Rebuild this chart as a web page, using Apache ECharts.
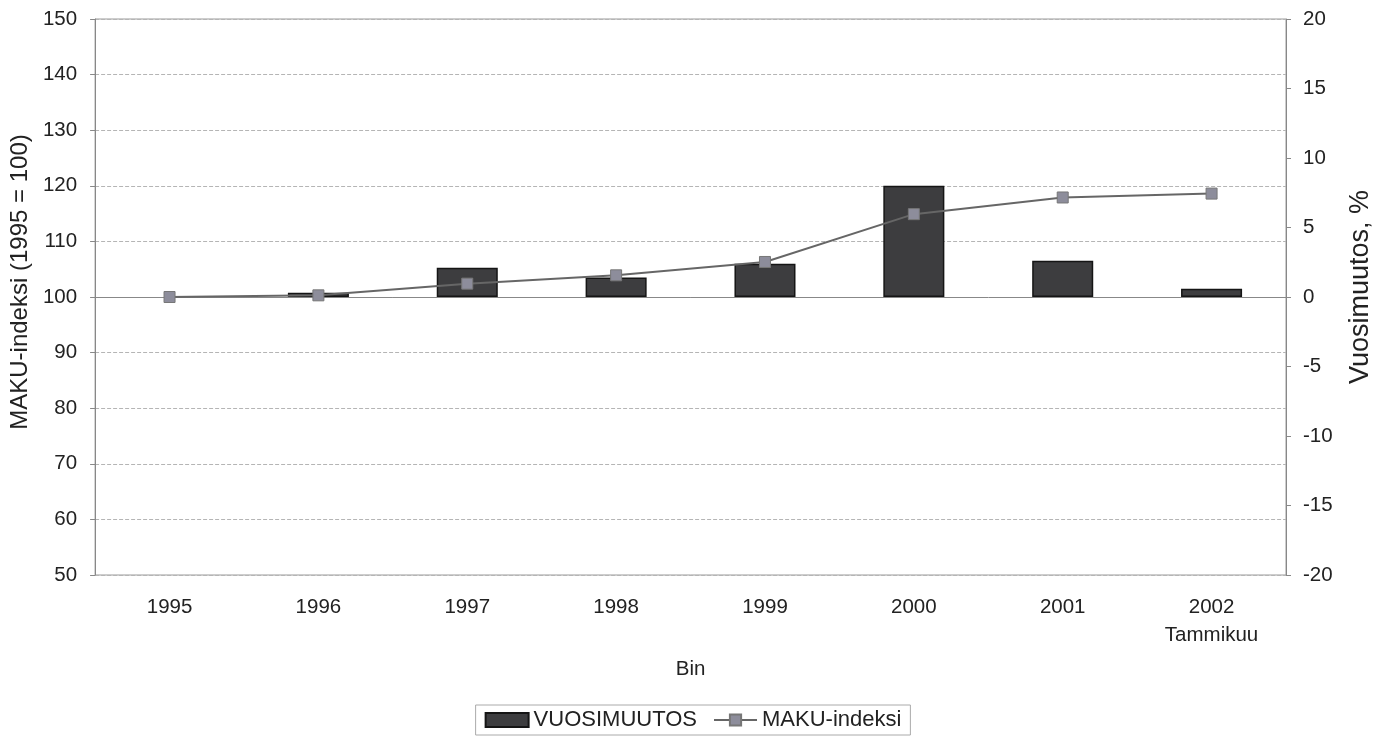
<!DOCTYPE html>
<html>
<head>
<meta charset="utf-8">
<title>MAKU-indeksi</title>
<script src="https://cdn.jsdelivr.net/npm/echarts@6/dist/echarts.min.js"></script>
<style>
	html, body { margin: 0; padding: 0; background: #fff; }
	#chart { width: 1386px; height: 741px; }
</style>
</head>
<body>
<div id="chart"></div>
<script>
// vuodet (viimeinen = tammikuu 2002)
var years = ['1995', '1996', '1997', '1998', '1999', '2000', '2001', '2002\nTammikuu'];
// vuosimuutos, % (oikea akseli)
var yearChange = ['-', 0.3, 2.1, 1.4, 2.4, 8.0, 2.6, 0.6];
// MAKU-indeksi 1995 = 100 (vasen akseli)
var makuIndex = [100, 100.3, 102.4, 103.9, 106.3, 114.9, 117.9, 118.6];

var font = 'Liberation Sans, Arial, sans-serif';
var txt = { color: '#222', fontFamily: font, fontSize: 20.5 };

var myChart = echarts.init(document.getElementById('chart'));
var option = {
	backgroundColor: '#ffffff',
	animation: false,
	textStyle: { fontFamily: font },
	grid: {
		left: 95,
		right: 100,
		top: 19,
		bottom: 166,
		show: true,
		borderColor: '#9a9a9a',
		borderWidth: 1
	},
	legend: {
		data: [{ name: 'VUOSIMUUTOS', icon: 'rect' }, { name: 'MAKU-indeksi' }],
		left: 'center',
		top: 705,
		itemWidth: 43,
		itemHeight: 14,
		itemGap: 16,
		padding: [4, 9],
		borderColor: '#aaa',
		borderWidth: 1,
		textStyle: { color: '#222', fontFamily: font, fontSize: 22 }
	},
	xAxis: {
		type: 'category',
		data: years,
		name: 'Bin',
		nameLocation: 'middle',
		nameGap: 84,
		nameTextStyle: txt,
		axisLine: { lineStyle: { color: '#888' } },
		axisTick: { lineStyle: { color: '#888' }, length: 5 },
		axisLabel: Object.assign({ margin: 18, lineHeight: 28 }, txt)
	},
	yAxis: [{
		type: 'value',
		min: 50,
		max: 150,
		interval: 10,
		name: 'MAKU-indeksi (1995 = 100)',
		nameLocation: 'middle',
		nameGap: 62,
		// otsikko hieman akselin keskikohdan yläpuolella
		nameTextStyle: { color: '#222', fontFamily: font, fontSize: 24, padding: [0, 0, 0, 30] },
		axisLine: { show: true, lineStyle: { color: '#888' } },
		axisTick: { show: true, lineStyle: { color: '#888' }, length: 5 },
		axisLabel: Object.assign({ margin: 18 }, txt),
		splitLine: { lineStyle: { color: '#b5b5b5', type: 'dashed', width: 1 } }
	}, {
		type: 'value',
		min: -20,
		max: 20,
		interval: 5,
		position: 'right',
		name: 'Vuosimuutos, %',
		nameLocation: 'middle',
		nameGap: 61,
		nameTextStyle: { color: '#222', fontFamily: font, fontSize: 27, padding: [0, 0, 0, 20] },
		axisLine: { show: true, lineStyle: { color: '#888' } },
		axisTick: { show: true, lineStyle: { color: '#888' }, length: 5 },
		axisLabel: Object.assign({ margin: 17 }, txt),
		splitLine: { show: false }
	}],
	series: [{
		name: 'VUOSIMUUTOS',
		type: 'bar',
		yAxisIndex: 1,
		barWidth: '41%',
		data: yearChange,
		itemStyle: { color: '#3d3d3f', borderColor: '#151515', borderWidth: 1.5 }
	}, {
		name: 'MAKU-indeksi',
		type: 'line',
		yAxisIndex: 0,
		data: makuIndex,
		symbol: 'rect',
		symbolSize: 11,
		lineStyle: { color: '#666', width: 2 },
		itemStyle: { color: '#8d8d9b', borderColor: '#777', borderWidth: 1 }
	}]
};
myChart.setOption(option);
</script>
</body>
</html>
